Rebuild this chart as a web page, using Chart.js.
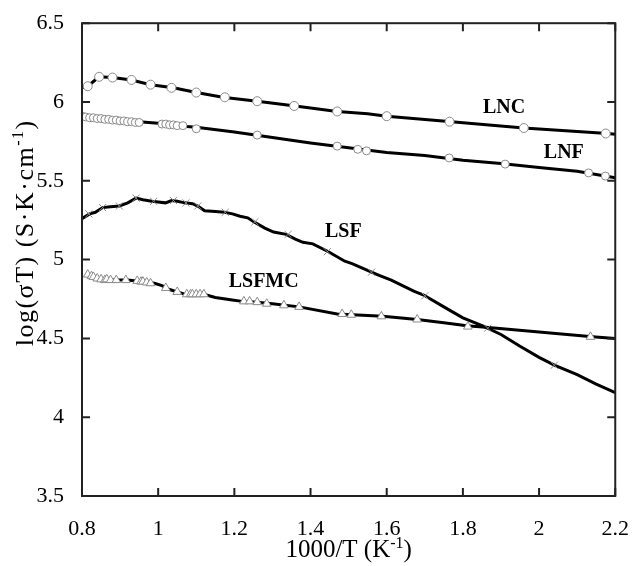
<!DOCTYPE html>
<html>
<head>
<meta charset="utf-8">
<script src="https://cdn.jsdelivr.net/npm/chart.js@4/dist/chart.umd.min.js"></script>
<style>
  body { margin: 0; background: #fff; }
</style>
</head>
<body>
<canvas id="myChart" width="641" height="566"></canvas>
<script>
// values: x = 1000/T (K^-1), y = log(sigma T)
const xTicks = [0.8, 1, 1.2, 1.4, 1.6, 1.8, 2, 2.2];
const yTicks = [3.5, 4, 4.5, 5, 5.5, 6, 6.5];

// LNC
const lncLineX = [0.80, 0.815, 0.83, 0.845, 0.88, 0.93, 0.98, 1.04, 1.10, 1.17, 1.26, 1.36, 1.47, 1.55, 1.60, 1.77, 1.96, 2.18, 2.20];
const lncLineY = [6.09, 6.10, 6.13, 6.16, 6.155, 6.14, 6.11, 6.09, 6.06, 6.03, 6.005, 5.975, 5.94, 5.925, 5.91, 5.875, 5.835, 5.80, 5.795];
const lncMarkX = [0.815, 0.845, 0.88, 0.93, 0.98, 1.035, 1.10, 1.175, 1.26, 1.357, 1.47, 1.60, 1.765, 1.96, 2.175];
const lncMarkY = [6.10, 6.16, 6.155, 6.14, 6.11, 6.09, 6.06, 6.03, 6.005, 5.975, 5.94, 5.91, 5.875, 5.835, 5.80];

// LNF
const lnfLineX = [0.80, 0.85, 0.90, 0.95, 1.0, 1.05, 1.10, 1.2, 1.3, 1.4, 1.5, 1.6, 1.7, 1.8, 1.9, 2.0, 2.1, 2.15, 2.2];
const lnfLineY = [5.91, 5.895, 5.885, 5.875, 5.865, 5.85, 5.84, 5.81, 5.775, 5.74, 5.71, 5.68, 5.66, 5.63, 5.61, 5.585, 5.56, 5.54, 5.52];
const lnfMarkX = [0.80, 0.81, 0.82, 0.83, 0.84, 0.85, 0.86, 0.87, 0.88, 0.89, 0.90, 0.91, 0.92, 0.93, 0.94, 0.95,
                  1.01, 1.02, 1.03, 1.04, 1.05, 1.065, 1.10, 1.26, 1.47, 1.524, 1.547, 1.764, 1.911, 2.13, 2.174];
const lnfMarkY = [5.91, 5.905, 5.90, 5.90, 5.895, 5.895, 5.89, 5.89, 5.885, 5.885, 5.88, 5.88, 5.875, 5.875, 5.87, 5.87,
                  5.86, 5.86, 5.855, 5.855, 5.85, 5.85, 5.83, 5.79, 5.72, 5.70, 5.69, 5.645, 5.606, 5.55, 5.53];

// LSF
const lsfLineX = [0.80, 0.82, 0.835, 0.854, 0.875, 0.898, 0.92, 0.942, 0.96, 0.983, 1.0, 1.019, 1.035, 1.05, 1.07, 1.09, 1.104, 1.122,
                  1.15, 1.174, 1.195, 1.215, 1.235, 1.251, 1.28, 1.303, 1.336, 1.36, 1.38, 1.406, 1.447, 1.49, 1.509, 1.542,
                  1.58, 1.612, 1.671, 1.697, 1.75, 1.80, 1.852, 1.90, 1.95, 2.0, 2.04, 2.1, 2.15, 2.2];
const lsfLineY = [5.26, 5.29, 5.30, 5.33, 5.335, 5.34, 5.36, 5.39, 5.38, 5.37, 5.365, 5.36, 5.375, 5.37, 5.36, 5.355, 5.34, 5.31,
                  5.305, 5.30, 5.29, 5.275, 5.265, 5.24, 5.20, 5.175, 5.16, 5.13, 5.11, 5.10, 5.05, 4.99, 4.975, 4.94,
                  4.90, 4.87, 4.80, 4.775, 4.70, 4.63, 4.58, 4.525, 4.45, 4.38, 4.33, 4.27, 4.21, 4.156];
const lsfMarkX = [0.818, 0.854, 0.898, 0.942, 0.988, 1.04, 1.073, 1.104, 1.176, 1.254, 1.341, 1.444, 1.56, 1.70, 1.865, 2.04];
const lsfMarkY = [5.29, 5.33, 5.34, 5.39, 5.37, 5.375, 5.36, 5.34, 5.30, 5.24, 5.16, 5.05, 4.92, 4.77, 4.565, 4.33];

// LSFMC
const lsfmcLineX = [0.81, 0.82, 0.83, 0.84, 0.855, 0.88, 0.92, 0.96, 0.99, 1.01, 1.03, 1.05, 1.07, 1.10, 1.12, 1.15, 1.19, 1.22,
                    1.26, 1.30, 1.37, 1.47, 1.59, 1.68, 1.75, 1.81, 1.86, 2.0, 2.14, 2.2];
const lsfmcLineY = [4.91, 4.89, 4.90, 4.875, 4.875, 4.87, 4.87, 4.86, 4.85, 4.835, 4.81, 4.795, 4.78, 4.78, 4.78, 4.76, 4.745, 4.735,
                    4.73, 4.72, 4.70, 4.655, 4.64, 4.62, 4.60, 4.58, 4.57, 4.54, 4.51, 4.50];
const lsfmcMarkX = [0.815, 0.825, 0.83, 0.84, 0.85, 0.86, 0.865, 0.875, 0.89, 0.915, 0.945, 0.955, 0.96, 0.97, 0.98,
                    1.02, 1.05, 1.075, 1.085, 1.09, 1.10, 1.11, 1.12, 1.225, 1.24, 1.26, 1.285, 1.33, 1.37,
                    1.483, 1.507, 1.586, 1.68, 1.813, 2.135];
const lsfmcMarkY = [4.905, 4.895, 4.89, 4.88, 4.875, 4.87, 4.875, 4.87, 4.87, 4.87, 4.865, 4.86, 4.86, 4.855, 4.85,
                    4.82, 4.795, 4.78, 4.78, 4.78, 4.78, 4.78, 4.78, 4.735, 4.735, 4.73, 4.72, 4.71, 4.70,
                    4.655, 4.65, 4.64, 4.62, 4.575, 4.51];

// series names and where their names sit (data coords)
const names = ["LNC", "LNF", "LSF", "LSFMC"];
const nameX = [1.908, 2.065, 1.486, 1.277];
const nameY = [5.96, 5.68, 5.175, 4.856];

// axis titles: [normal text, superscript, tail]
const xTitle = ["1000/T (K", "-1", ")"];
const yTitle = ["log(\u03C3T) (S\u00B7K\u00B7cm", "-1", ")"];

const serif = "'Liberation Serif', 'Times New Roman', serif";
const cxt = document.querySelector("#myChart");

function pts(xs, ys) {
  return xs.map((x, i) => ({ x: x, y: ys[i] }));
}

function lineSet(xs, ys) {
  return {
    data: pts(xs, ys),
    showLine: true,
    borderColor: "#000",
    borderWidth: 3,
    pointRadius: 0,
    tension: 0,
    order: 1,
  };
}

function markSet(xs, ys, style, r) {
  return {
    data: pts(xs, ys),
    showLine: false,
    pointStyle: style,
    pointRadius: r,
    borderColor: "#8a8a8a",
    backgroundColor: "#fff",
    pointBorderWidth: 1,
    order: 0,
  };
}

// text with a raised "-1", centred on (0,0) of the current transform
function drawSupText(ctx, parts, size, spacing) {
  const big = size + "px " + serif;
  const small = Math.round(size * 0.62) + "px " + serif;
  ctx.letterSpacing = spacing + "px";
  ctx.font = big;
  const w0 = ctx.measureText(parts[0]).width;
  const w2 = ctx.measureText(parts[2]).width;
  ctx.font = small;
  const w1 = ctx.measureText(parts[1]).width;
  let x = -(w0 + w1 + w2) / 2;
  ctx.textAlign = "left";
  ctx.textBaseline = "alphabetic";
  ctx.font = big;
  ctx.fillText(parts[0], x, 0);
  x += w0;
  ctx.font = small;
  ctx.fillText(parts[1], x, -size * 0.38);
  x += w1;
  ctx.font = big;
  ctx.fillText(parts[2], x, 0);
  ctx.letterSpacing = "0px";
}

// frame with inward ticks, series names, axis titles
const framePlugin = {
  id: "frame",
  afterDatasetsDraw(chart) {
    const { ctx, chartArea: a, scales } = chart;
    const tl = 8;
    ctx.save();
    ctx.strokeStyle = "#222";
    ctx.lineWidth = 2;
    ctx.strokeRect(a.left, a.top, a.right - a.left, a.bottom - a.top);
    ctx.beginPath();
    yTicks.forEach((v) => {
      const p = scales.y.getPixelForValue(v);
      ctx.moveTo(a.left, p); ctx.lineTo(a.left + tl, p);
      ctx.moveTo(a.right, p); ctx.lineTo(a.right - tl, p);
    });
    xTicks.forEach((v) => {
      const p = scales.x.getPixelForValue(v);
      ctx.moveTo(p, a.bottom); ctx.lineTo(p, a.bottom - tl);
      ctx.moveTo(p, a.top); ctx.lineTo(p, a.top + tl);
    });
    ctx.stroke();

    ctx.fillStyle = "#000";
    ctx.font = "bold 20px " + serif;
    ctx.textAlign = "center";
    ctx.textBaseline = "middle";
    names.forEach((n, i) => {
      ctx.fillText(n, scales.x.getPixelForValue(nameX[i]), scales.y.getPixelForValue(nameY[i]));
    });

    // x title under the tick labels
    ctx.save();
    ctx.translate((a.left + a.right) / 2, chart.height - 9);
    drawSupText(ctx, xTitle, 25, 0);
    ctx.restore();

    // y title, rotated, left of the tick labels
    ctx.save();
    ctx.translate(33, scales.y.getPixelForValue(5.17));
    ctx.rotate(-Math.PI / 2);
    drawSupText(ctx, yTitle, 26, 1.5);
    ctx.restore();

    ctx.restore();
  },
};

const config = {
  type: "scatter",
  data: {
    datasets: [
      lineSet(lncLineX, lncLineY),
      markSet(lncMarkX, lncMarkY, "circle", 4.5),
      lineSet(lnfLineX, lnfLineY),
      markSet(lnfMarkX, lnfMarkY, "circle", 4),
      lineSet(lsfLineX, lsfLineY),
      markSet(lsfMarkX, lsfMarkY, "crossRot", 5),
      lineSet(lsfmcLineX, lsfmcLineY),
      markSet(lsfmcMarkX, lsfmcMarkY, "triangle", 5),
    ],
  },
  options: {
    responsive: false,
    animation: false,
    layout: { padding: { top: 16, right: 16, left: 0, bottom: 0 } },
    plugins: { legend: { display: false }, tooltip: { enabled: false } },
    scales: {
      x: {
        type: "linear",
        min: 0.8,
        max: 2.2,
        afterBuildTicks: (s) => { s.ticks = xTicks.map((v) => ({ value: v })); },
        afterFit: (s) => { s.height = 70; },
        grid: { display: false },
        border: { display: false },
        ticks: {
          padding: 12,
          color: "#000",
          font: { family: serif, size: 22 },
          callback: (v) => String(+v.toFixed(1)),
        },
        title: { display: false },
      },
      y: {
        type: "linear",
        min: 3.5,
        max: 6.5,
        afterBuildTicks: (s) => { s.ticks = yTicks.map((v) => ({ value: v })); },
        afterFit: (s) => { s.width = 82; },
        grid: { display: false },
        border: { display: false },
        ticks: {
          padding: 10,
          color: "#000",
          font: { family: serif, size: 22 },
          callback: (v) => String(+v.toFixed(1)),
        },
        title: { display: false },
      },
    },
  },
  plugins: [framePlugin],
};

new Chart(cxt, config);
</script>
</body>
</html>
